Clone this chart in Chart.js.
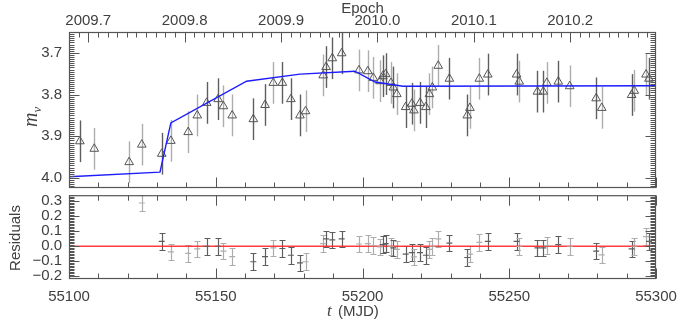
<!DOCTYPE html>
<html>
<head>
<meta charset="utf-8">
<script src="https://cdn.jsdelivr.net/npm/chart.js@4.4.1/dist/chart.umd.min.js"></script>
<style>
  body { margin: 0; background: #fff; }
  #wrap { position: relative; width: 690px; height: 322px; }
  canvas { position: absolute; left: 0; }
  #top { top: 0; }
  #bottom { top: 190px; }
</style>
</head>
<body>
<div id="wrap">
  <canvas id="top" width="690" height="194"></canvas>
  <canvas id="bottom" width="690" height="132"></canvas>
</div>
<script>
// observations
const mjd = [55103.7, 55108.6, 55120.5, 55124.8, 55131.6, 55134.7, 55140.6, 55143.7, 55146.9, 55150.8,
             55152.6, 55155.6, 55162.8, 55166.8, 55169.6, 55172.7, 55175.6, 55178.7, 55180.6, 55186.6,
             55187.6, 55189.7, 55192.9, 55198.8, 55201.8, 55203.7, 55206.0, 55206.9, 55207.9, 55209.7,
             55210.5, 55211.7, 55214.7, 55216.8, 55217.5, 55219.6, 55221.6, 55222.8, 55223.8, 55225.8,
             55229.6, 55235.7, 55236.6, 55239.8, 55242.7, 55252.5, 55253.4, 55259.6, 55261.6, 55262.8,
             55266.7, 55270.6, 55279.6, 55281.5, 55291.7, 55292.6, 55296.6, 55297.6];
const mag = [3.912, 3.930, 3.962, 3.920, 3.942, 3.911, 3.890, 3.850, 3.820, 3.811,
             3.828, 3.850, 3.859, 3.825, 3.772, 3.772, 3.811, 3.850, 3.840, 3.754,
             3.734, 3.713, 3.701, 3.742, 3.744, 3.760, 3.768, 3.756, 3.751, 3.772,
             3.783, 3.799, 3.830, 3.822, 3.838, 3.820, 3.830, 3.799, 3.783, 3.731,
             3.762, 3.850, 3.832, 3.762, 3.752, 3.752, 3.769, 3.793, 3.793, 3.772,
             3.769, 3.780, 3.809, 3.832, 3.801, 3.791, 3.752, 3.762];
const magErr = [0.05, 0.05, 0.05, 0.05, 0.05, 0.05, 0.05, 0.05, 0.05, 0.05,
                0.05, 0.05, 0.05, 0.05, 0.05, 0.05, 0.05, 0.05, 0.05, 0.05,
                0.05, 0.05, 0.05, 0.05, 0.05, 0.05, 0.05, 0.05, 0.05, 0.05,
                0.05, 0.05, 0.05, 0.05, 0.05, 0.05, 0.05, 0.05, 0.05, 0.05,
                0.05, 0.05, 0.05, 0.05, 0.05, 0.05, 0.05, 0.05, 0.05, 0.05,
                0.05, 0.05, 0.05, 0.05, 0.05, 0.05, 0.05, 0.05];
// 0 = darker observer, 1 = lighter observer
const source = [0, 1, 1, 1, 0, 1, 1, 1, 0, 0,
                1, 1, 0, 0, 1, 0, 0, 0, 1, 1,
                0, 0, 0, 1, 1, 1, 1, 0, 0, 1,
                0, 1, 0, 0, 1, 0, 0, 1, 1, 1,
                0, 0, 1, 1, 0, 0, 1, 0, 0, 1,
                0, 1, 0, 1, 0, 1, 1, 0];
const resid = [null, null, null, 0.288, 0.032, -0.038, -0.047, -0.017, 0, 0,
               -0.032, -0.069, -0.103, -0.069, -0.011, -0.015, -0.06, -0.111, -0.103, 0.017,
               0.049, 0.043, 0.049, 0.015, 0.017, 0.004, -0.004, 0.011, 0.017, 0,
               -0.011, -0.021, -0.053, -0.043, -0.071, -0.043, -0.06, -0.021, 0, 0.049,
               0.021, -0.075, -0.053, 0.026, 0.032, 0.032, 0, -0.011, -0.011, 0.004,
               0.011, 0, -0.032, -0.058, -0.017, 0, 0.064, 0.032];
const residErr = [null, null, null, 0.055, 0.055, 0.055, 0.055, 0.055, 0.055, 0.055,
                  0.055, 0.055, 0.055, 0.055, 0.055, 0.055, 0.055, 0.055, 0.055, 0.055,
                  0.055, 0.055, 0.055, 0.055, 0.055, 0.055, 0.055, 0.055, 0.055, 0.055,
                  0.055, 0.055, 0.055, 0.055, 0.055, 0.055, 0.055, 0.055, 0.055, 0.055,
                  0.055, 0.055, 0.055, 0.055, 0.055, 0.055, 0.055, 0.055, 0.055, 0.055,
                  0.055, 0.055, 0.055, 0.055, 0.055, 0.055, 0.055, 0.055];

// model light curve
const modelMjd = [55100, 55131.0, 55134.7, 55160.5, 55178.7, 55197.4, 55204.3, 55213.8, 55300];
const modelMag = [3.997, 3.986, 3.868, 3.768, 3.751, 3.744, 3.770, 3.780, 3.779];

// axes
const mjdRange = [55100, 55300];
const magRange = [3.65, 4.024];
const residRange = [-0.218, 0.34];
const epochRange = [2009.68, 2010.289];
const mjdTicks = [55100, 55150, 55200, 55250, 55300];
const magTicks = [3.7, 3.8, 3.9, 4.0];
const residTicks = [-0.2, -0.1, 0.0, 0.1, 0.2, 0.3];
const epochTicks = [2009.7, 2009.8, 2009.9, 2010.0, 2010.1, 2010.2];

const TXT = '#404040';
const AX = '#555';
const DARK = '#5e5e5e';
const LIGHT = '#adadad';
const FONT = { family: "'Liberation Sans', Arial, sans-serif", size: 15 };

function steps(min, max, step) {
  const out = [];
  for (let i = Math.ceil(min / step - 1e-6); i * step <= max + 1e-9; i++) out.push(i * step);
  return out;
}

function fmt1(v) {
  const s = Math.abs(v).toFixed(1);
  return v < -1e-9 ? '\u2212' + s : s;
}

function edgeX(ctx, scale, vals, y, dir, len) {
  vals.forEach(v => {
    const x = Math.round(scale.getPixelForValue(v)) + 0.5;
    ctx.moveTo(x, y);
    ctx.lineTo(x, y + dir * len);
  });
}

function edgeY(ctx, scale, vals, x, dir, len) {
  vals.forEach(v => {
    const y = Math.round(scale.getPixelForValue(v)) + 0.5;
    ctx.moveTo(x, y);
    ctx.lineTo(x + dir * len, y);
  });
}

// IDL style box with inward ticks
function boxPlugin(cfg) {
  return {
    id: 'box',
    afterDatasetsDraw(chart) {
      const { ctx, chartArea: a } = chart;
      const l = a.left + 0.5, r = a.right - 0.5, t = a.top + 0.5, b = a.bottom - 0.5;
      ctx.save();
      ctx.strokeStyle = AX;
      ctx.lineWidth = 1;
      ctx.beginPath();
      const ys = chart.scales.y;
      edgeY(ctx, ys, cfg.yMajor, l, 1, 10);
      edgeY(ctx, ys, cfg.yMajor, r, -1, 10);
      edgeY(ctx, ys, cfg.yMinor, l, 1, 5);
      edgeY(ctx, ys, cfg.yMinor, r, -1, 5);
      const xb = chart.scales.x;
      edgeX(ctx, xb, mjdTicks, b, -1, 10);
      edgeX(ctx, xb, steps(mjdRange[0], mjdRange[1], 10), b, -1, 5);
      const xt = cfg.topScale ? chart.scales[cfg.topScale] : xb;
      edgeX(ctx, xt, cfg.topMajor, t, 1, 10);
      edgeX(ctx, xt, cfg.topMinor, t, 1, 5);
      ctx.stroke();
      ctx.lineWidth = 1.2;
      ctx.strokeRect(l, t, r - l, b - t);
      ctx.restore();
      if (cfg.after) cfg.after(chart);
    }
  };
}

function fixedTicks(list) {
  return s => { s.ticks = list.map(v => ({ value: v })); };
}

// fixed axis size, and no extra room asked for the end labels
function fixSize(w, h) {
  return s => {
    if (w !== null) s.width = w;
    if (h !== null) s.height = h;
    s.paddingTop = 0; s.paddingBottom = 0; s.paddingLeft = 0; s.paddingRight = 0;
  };
}

// ---------- top panel ----------
const obsPoints = mjd.map((m, i) => ({ x: m, y: mag[i] }));
const modelPoints = modelMjd.map((m, i) => ({ x: m, y: modelMag[i] }));

const magBars = {
  id: 'magBars',
  beforeDatasetsDraw(chart) {
    const { ctx, chartArea: a } = chart;
    const xs = chart.scales.x, ys = chart.scales.y;
    ctx.save();
    ctx.beginPath();
    ctx.rect(a.left, a.top, a.right - a.left, a.bottom - a.top);
    ctx.clip();
    ctx.lineWidth = 1.4;
    mjd.forEach((m, i) => {
      const x = Math.round(xs.getPixelForValue(m)) + 0.5;
      ctx.strokeStyle = source[i] ? LIGHT : DARK;
      ctx.beginPath();
      ctx.moveTo(x, ys.getPixelForValue(mag[i] - magErr[i]));
      ctx.lineTo(x, ys.getPixelForValue(mag[i] + magErr[i]));
      ctx.stroke();
    });
    ctx.restore();
  }
};

new Chart(document.getElementById('top'), {
  type: 'scatter',
  data: {
    datasets: [
      {
        data: modelPoints,
        showLine: true,
        borderColor: '#1c1cff',
        borderWidth: 1.4,
        pointRadius: 0,
        order: 0
      },
      {
        data: obsPoints,
        pointStyle: 'triangle',
        pointRadius: 5,
        borderColor: '#555',
        borderWidth: 1,
        backgroundColor: 'rgba(0,0,0,0)',
        order: 1
      }
    ]
  },
  options: {
    responsive: false,
    animation: false,
    events: [],
    layout: { padding: { left: 0, right: 34, top: 0, bottom: 2 } },
    plugins: { legend: { display: false }, tooltip: { enabled: false } },
    scales: {
      x: {
        type: 'linear', display: false,
        min: mjdRange[0], max: mjdRange[1]
      },
      x2: {
        type: 'linear', position: 'top',
        min: epochRange[0], max: epochRange[1],
        afterBuildTicks: fixedTicks(epochTicks),
        afterFit: fixSize(null, 32),
        grid: { display: false, drawTicks: false },
        border: { display: false },
        ticks: { color: TXT, font: FONT, padding: 2, maxRotation: 0, autoSkip: false, callback: v => v.toFixed(1) },
        title: { display: true, text: 'Epoch', color: TXT, font: FONT, padding: { top: 0, bottom: 0 } }
      },
      y: {
        type: 'linear', reverse: true,
        min: magRange[0], max: magRange[1],
        afterBuildTicks: fixedTicks(magTicks),
        afterFit: fixSize(69, null),
        grid: { display: false, drawTicks: false },
        border: { display: false },
        ticks: { color: TXT, font: FONT, padding: 7, autoSkip: false, callback: v => v.toFixed(1) }
      }
    }
  },
  plugins: [magBars, boxPlugin({
    yMajor: magTicks,
    yMinor: steps(magRange[0], magRange[1], 0.005),
    topScale: 'x2',
    topMajor: epochTicks,
    topMinor: steps(epochRange[0], epochRange[1], 0.01),
    after(chart) {
      const ctx = chart.ctx;
      ctx.save();
      ctx.fillStyle = TXT;
      ctx.translate(38, 118);
      ctx.rotate(-Math.PI / 2);
      ctx.textBaseline = 'alphabetic';
      ctx.font = "italic 20px 'Liberation Serif', serif";
      ctx.fillText('m', -9, -1);
      const w = ctx.measureText('m').width;
      ctx.font = "italic 13px 'Liberation Serif', serif";
      ctx.fillText('v', -9 + w, 3);
      ctx.restore();
    }
  })]
});

// ---------- residual panel ----------
const residPoints = [];
mjd.forEach((m, i) => { if (resid[i] !== null) residPoints.push({ x: m, y: resid[i] }); });
const residColors = source.filter((s, i) => resid[i] !== null).map(s => s ? LIGHT : DARK);
const zeroLine = [{ x: mjdRange[0], y: 0 }, { x: mjdRange[1], y: 0 }];

const residBars = {
  id: 'residBars',
  beforeDatasetsDraw(chart) {
    const { ctx, chartArea: a } = chart;
    const xs = chart.scales.x, ys = chart.scales.y;
    ctx.save();
    ctx.beginPath();
    ctx.rect(a.left, a.top, a.right - a.left, a.bottom - a.top);
    ctx.clip();
    ctx.lineWidth = 1.2;
    mjd.forEach((m, i) => {
      if (resid[i] === null) return;
      const x = Math.round(xs.getPixelForValue(m)) + 0.5;
      const y1 = Math.round(ys.getPixelForValue(resid[i] + residErr[i])) + 0.5;
      const y2 = Math.round(ys.getPixelForValue(resid[i] - residErr[i])) + 0.5;
      ctx.strokeStyle = source[i] ? LIGHT : DARK;
      ctx.beginPath();
      ctx.moveTo(x, y1); ctx.lineTo(x, y2);
      ctx.moveTo(x - 3, y1); ctx.lineTo(x + 3, y1);
      ctx.moveTo(x - 3, y2); ctx.lineTo(x + 3, y2);
      ctx.stroke();
    });
    ctx.restore();
  }
};

new Chart(document.getElementById('bottom'), {
  type: 'scatter',
  data: {
    datasets: [
      {
        data: zeroLine,
        showLine: true,
        borderColor: 'rgba(255,40,40,0.9)',
        borderWidth: 1.6,
        pointRadius: 0,
        order: 1
      },
      {
        data: residPoints,
        pointStyle: 'line',
        pointRadius: 3,
        borderWidth: 1.2,
        borderColor: residColors,
        order: 0
      }
    ]
  },
  options: {
    responsive: false,
    animation: false,
    events: [],
    layout: { padding: { left: 0, right: 34, top: 2, bottom: 0 } },
    plugins: { legend: { display: false }, tooltip: { enabled: false } },
    scales: {
      x: {
        type: 'linear', position: 'bottom',
        min: mjdRange[0], max: mjdRange[1],
        afterBuildTicks: fixedTicks(mjdTicks),
        afterFit: fixSize(null, 43),
        grid: { display: false, drawTicks: false },
        border: { display: false },
        ticks: { color: TXT, font: FONT, padding: 9, maxRotation: 0, autoSkip: false, callback: v => String(v) }
      },
      y: {
        type: 'linear',
        min: residRange[0], max: residRange[1],
        afterBuildTicks: fixedTicks(residTicks),
        afterFit: fixSize(69, null),
        grid: { display: false, drawTicks: false },
        border: { display: false },
        ticks: { color: TXT, font: FONT, padding: 7, autoSkip: false, callback: fmt1 }
      }
    }
  },
  plugins: [residBars, boxPlugin({
    yMajor: residTicks,
    yMinor: steps(residRange[0], residRange[1], 0.01),
    topMajor: mjdTicks,
    topMinor: steps(mjdRange[0], mjdRange[1], 10),
    after(chart) {
      const ctx = chart.ctx;
      ctx.save();
      ctx.fillStyle = TXT;
      ctx.save();
      ctx.translate(16, 48);
      ctx.rotate(-Math.PI / 2);
      ctx.font = "15px 'Liberation Sans', sans-serif";
      ctx.textAlign = 'center';
      ctx.textBaseline = 'middle';
      ctx.fillText('Residuals', 0, 0);
      ctx.restore();
      ctx.textBaseline = 'middle';
      ctx.font = "italic 17px 'Liberation Serif', serif";
      ctx.fillText('t', 327, 122);
      const w = ctx.measureText('t ').width;
      ctx.font = "15px 'Liberation Sans', sans-serif";
      ctx.fillText('(MJD)', 327 + w + 2, 122);
      ctx.restore();
    }
  })]
});
</script>
</body>
</html>
